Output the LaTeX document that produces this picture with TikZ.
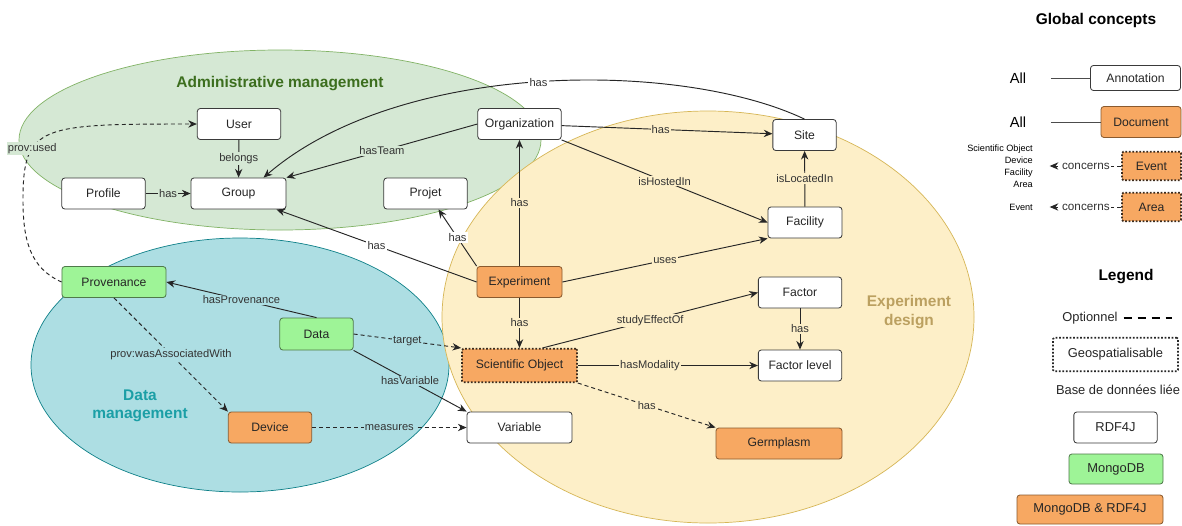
\documentclass[tikz,border=0pt]{standalone}
\usepackage{fontspec}
\setmainfont{Liberation Sans}
\usetikzlibrary{positioning,arrows.meta,calc}

\definecolor{admfill}{HTML}{D5E8D4}
\definecolor{admline}{HTML}{82B366}
\definecolor{admtext}{HTML}{3C6E1E}
\definecolor{datfill}{HTML}{ADDEE3}
\definecolor{datline}{HTML}{0E8088}
\definecolor{dattext}{HTML}{1B9FA6}
\definecolor{expfill}{HTML}{FDEFC8}
\definecolor{expline}{HTML}{D6B656}
\definecolor{exptext}{HTML}{BBA060}
\definecolor{mongofill}{HTML}{9EF497}
\definecolor{mongoline}{HTML}{4F7A4A}
\definecolor{bothfill}{HTML}{F7A862}
\definecolor{bothline}{HTML}{8A5A2E}
\definecolor{boxline}{HTML}{3A3A3A}
\definecolor{geoline}{HTML}{3B2A1C}
\definecolor{edgecol}{HTML}{262626}
\definecolor{lblcol}{HTML}{333333}

\begin{document}
\begin{tikzpicture}[x=0.03cm, y=-0.03cm, >={Stealth[length=2.6mm,width=2.2mm]},
    box/.style={draw=boxline, fill=white, text=black!85, rounded corners=2.5pt, line width=0.7pt,
        minimum width=2.5cm, minimum height=0.93cm, inner sep=2pt,
        font=\fontsize{10.4}{12}\selectfont},
    mongo/.style={box, fill=mongofill, draw=mongoline},
    both/.style={box, fill=bothfill, draw=bothline},
    geo/.style={draw=geoline, line width=1.5pt, dash pattern=on 1.5pt off 1.5pt, rounded corners=1pt},
    link/.style={->, draw=edgecol, line width=0.8pt},
    opt/.style={link, dash pattern=on 3.4pt off 2.6pt},
    plain/.style={draw=black!70, line width=0.7pt},
    lbl/.style={font=\fontsize{9.5}{11}\selectfont, text=lblcol, inner sep=1pt},
    onadm/.style={lbl, fill=admfill},
    ondat/.style={lbl, fill=datfill},
    onexp/.style={lbl, fill=expfill},
    onwhite/.style={lbl, fill=white},
    title/.style={font=\bfseries\fontsize{13.2}{15.5}\selectfont, align=center},
    legtext/.style={font=\fontsize{11}{13}\selectfont, text=black!85}]
    \useasboundingbox (0,0) rectangle (1182,525);
    \fill[white] (0,0) rectangle (1182,525);

    % areas
    \draw[fill=admfill, draw=admline, line width=0.6pt] (280,140) ellipse [x radius=261, y radius=90];
    \draw[fill=datfill, draw=datline, line width=0.6pt] (240,365) ellipse [x radius=209, y radius=127];
    \draw[fill=expfill, draw=expline, line width=0.6pt] (708,317) ellipse [x radius=266, y radius=206];
    \node[title, text=admtext] (admtitle) at (280,84) {Administrative management};
    \node[title, text=dattext] (dattitle) at (140,406) {Data\\management};
    \node[title, text=exptext] (exptitle) at (909,312) {Experiment\\design};

    % Administrative management
    \node[box] (user) at (239,124) {User};
    \node[box, minimum width=2.85cm] (group) at (238.5,193.5) {Group};
    \node[box] (profile) at (103.5,193.5) {Profile};
    \node[box] (projet) at (425.5,193.5) {Projet};
    \node[box] (orga) at (519.5,124) {Organization};

    % Experiment design
    \node[box, minimum width=1.9cm] (site) at (804.5,135) {Site};
    \node[box, minimum width=2.22cm] (facility) at (805,222.5) {Facility};
    \node[both, minimum width=2.55cm] (exp) at (519.5,282) {Experiment};
    \node[box] (factor) at (800,292.5) {Factor};
    \node[both, geo, minimum width=3.45cm, minimum height=1.0cm] (sciobj) at (519.5,365.5) {Scientific Object};
    \node[box] (flevel) at (800,365.5) {Factor level};
    \node[box, minimum width=3.15cm] (variable) at (519.5,427.5) {Variable};
    \node[both, minimum width=3.78cm] (germplasm) at (779,443.5) {Germplasm};

    % Data management
    \node[mongo, minimum width=3.12cm] (prov) at (114,282) {Provenance};
    \node[mongo, minimum width=2.2cm, minimum height=0.96cm] (data) at (316.5,334) {Data};
    \node[both] (device) at (270,427.5) {Device};

    \draw[link] (user) -- node[onadm] {belongs} (group);
    \draw[link] (profile) -- node[onadm] {has} (group);
    \draw[link] (orga.west) -- node[onadm] {hasTeam} (group.north east);
    \draw[link] (site.north) .. controls (680,60) and (400,60) .. node[onwhite, pos=0.5] {has} ($(group.north)+(25,0)$);

    \draw[link] (orga) -- node[onexp, pos=0.47] {has} (site);
    \draw[link] (orga.south east) -- node[onexp] {isHostedIn} (facility.west);
    \draw[link] (facility) -- node[onexp] {isLocatedIn} (site);
    \draw[link] (exp) -- node[onexp] {has} (orga);
    \draw[link] (exp.north west) -- node[onwhite] {has} ($(projet.south)+(13,0)$);
    \draw[link] (exp.west) -- node[onwhite] {has} ($(group.south east)+(-10,0)$);
    \draw[link] (exp.east) -- node[onexp] {uses} (facility.south west);
    \draw[link] (exp) -- node[onexp] {has} (sciobj);
    \draw[link] ($(sciobj.north)+(23,0)$) -- node[onexp] {studyEffectOf} (factor.west);
    \draw[link] (factor) -- node[onexp] {has} (flevel);
    \draw[link] (sciobj) -- node[onexp, pos=0.4] {hasModality} (flevel);
    \draw[opt] (sciobj.south east) -- node[onexp] {has} (germplasm.north west);

    \draw[link] (data.north) -- node[ondat] {hasProvenance} (prov.east);
    \draw[opt] (data.east) -- node[ondat] {target} (sciobj.north west);
    \draw[link] (data.south east) -- node[ondat] {hasVariable} (variable.north west);
    \draw[opt] (device) -- node[ondat] {measures} (variable);
    \draw[opt] (prov.south) -- node[ondat] {prov:wasAssociatedWith} (device.north west);
    \draw[opt] (prov.west) .. controls (30,268) and (23,240) .. (23,200)
        .. controls (23,125) and (40,124) .. node[onadm, pos=0.32] {prov:used} (user.west);

    % Global concepts
    \node[title] (gctitle) at (1096,20) {Global concepts};
    \node[font=\fontsize{12.5}{15}\selectfont] (all1) at (1018,78) {All};
    \node[box, minimum width=2.7cm, minimum height=0.75cm] (annot) at (1135.5,78) {Annotation};
    \node[font=\fontsize{12.5}{15}\selectfont] (all2) at (1018,122) {All};
    \node[both, minimum width=2.4cm] (document) at (1141,122) {Document};
    \node[font=\fontsize{7.8}{10.2}\selectfont, align=right, anchor=east, inner sep=0pt] (evtargets) at (1033,166) {Scientific Object\\Device\\Facility\\Area};
    \node[both, geo, minimum width=1.77cm, minimum height=0.85cm] (event) at (1151.5,166) {Event};
    \node[font=\fontsize{7.8}{10.2}\selectfont, anchor=east, inner sep=0pt] (areatargets) at (1033,207) {Event};
    \node[both, geo, minimum width=1.77cm, minimum height=0.85cm] (area) at (1151.5,207) {Area};
    \draw[plain, shorten <=0.62cm] (all1) -- (annot);
    \draw[plain, shorten <=0.62cm] (all2) -- (document);
    \draw[opt, shorten >=0.5cm] (event) -- node[lbl, fill=white, pos=0.4, font=\fontsize{10}{12}\selectfont] {concerns} (evtargets);
    \draw[opt, shorten >=0.5cm] (area) -- node[lbl, fill=white, pos=0.4, font=\fontsize{10}{12}\selectfont] {concerns} (areatargets);

    % Legend
    \node[title] (legtitle) at (1126,277) {Legend};
    \node[legtext] (optional) at (1090,318) {Optionnel};
    \coordinate (dashend) at (1172,318);
    \draw[line width=1.6pt, dash pattern=on 6.8pt off 5.1pt] ($(optional.east)+(2,0)$) -- (dashend);
    \node[box, geo, draw=black!85, minimum width=3.75cm, minimum height=1.0cm, font=\fontsize{11}{13}\selectfont] (geospat) at (1115.5,354.5) {Geospatialisable};
    \node[legtext] (dblinked) at (1118,390) {Base de données liée};
    \node[box, font=\fontsize{11}{13}\selectfont] (rdf) at (1115.5,427.5) {RDF4J};
    \node[mongo, minimum width=2.82cm, minimum height=0.9cm, font=\fontsize{11}{13}\selectfont] (mongodb) at (1116,469) {MongoDB};
    \node[both, minimum width=4.38cm, minimum height=0.87cm, font=\fontsize{11}{13}\selectfont] (mongordf) at (1090,509.5) {MongoDB \& RDF4J};
\end{tikzpicture}
\end{document}
